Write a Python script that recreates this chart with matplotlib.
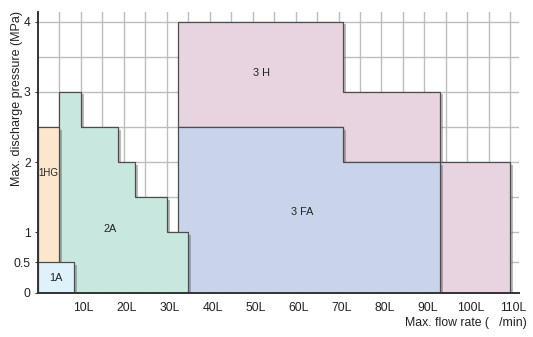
import numpy as np
import matplotlib
matplotlib.use("Agg")
import matplotlib.pyplot as plt
from matplotlib.patches import Polygon
from matplotlib import patheffects as pe
from matplotlib.transforms import ScaledTranslation

plt.rcParams['font.family'] = ['Liberation Sans', 'DejaVu Sans']

# ---- data (flow in L/min, pressure in MPa) ----
models = ["1A", "1HG", "2A", "3FA", "3H", "3H_ext"]
flow_1A = [0, 8.4];            press_1A = [0.5]
flow_1HG = [0, 5];             press_1HG = [2.5]
flow_2A = [5, 10, 18.6, 22.6, 30, 35]; press_2A = [3, 2.5, 2, 1.5, 1]
flow_3FA = [32.7, 71, 93.6];   press_3FA = [2.5, 2]
flow_3H = [32.7, 71, 93.6];    press_3H_top = [4, 3]; press_3H_bottom = [2.5, 2]
flow_3H_ext = [93.6, 110];     press_3H_ext = [2]

labels = ["1A", "1HG", "2A", "3 FA", "3 H"]
label_x = [4.2, 2.5, 16.8, 61.5, 52.1]
label_y = [0.24, 1.85, 1.05, 1.29, 3.27]
label_size = [7.8, 7.0, 7.8, 7.8, 7.8]

xtick_vals = [10, 20, 30, 40, 50, 60, 70, 80, 90, 100, 110]
xtick_labels = [f"{v}L" for v in xtick_vals]
ytick_vals = [0, 0.5, 1, 2, 3, 4]
ytick_labels = ["0", "0.5", "1", "2", "3", "4"]

colors = {"1A": "#dff1fb", "1HG": "#fde7cc", "2A": "#c8e8df",
          "3FA": "#c9d3ea", "3H": "#e8d4e0"}


def step_upper(edges, press):
    pts = []
    for i, p in enumerate(press):
        pts.append((edges[i], p))
        pts.append((edges[i + 1], p))
    return pts


def step_poly(edges, press, base=None):
    up = step_upper(edges, press)
    if base is None:
        return [(edges[0], 0)] + up + [(edges[-1], 0)]
    low = step_upper(edges, base)
    return up + low[::-1]


# piecewise axis scale (bottom part slightly compressed as in original)
def fwd(y):
    y = np.asarray(y, dtype=float)
    return np.where(y <= 1, y * 6 / 7, y - 1 / 7)


def inv(u):
    u = np.asarray(u, dtype=float)
    return np.where(u <= 6 / 7, u * 7 / 6, u + 1 / 7)


fig = plt.figure(figsize=(5.33, 3.37), dpi=100)
ax = fig.add_axes([37.7 / 533, 1 - 292.5 / 337, (519 - 37.7) / 533, (292.5 - 12) / 337])
ax.set_yscale('function', functions=(fwd, inv))
ax.set_xlim(0, 112)
ax.set_ylim(0, 4.139)

# grid
for gx in np.arange(5, 112, 5):
    ax.axvline(gx, color="#bdbdbd", lw=1.0, zorder=0)
for gy in np.arange(0.5, 4.01, 0.5):
    ax.axhline(gy, color="#bdbdbd", lw=1.0, zorder=0)

shadow = [pe.SimplePatchShadow(offset=(2.2, -1.8), shadow_rgbFace="#555555", alpha=0.4),
          pe.Normal()]


def add(pts, color, z):
    poly = Polygon(pts, closed=True, facecolor=color, edgecolor="#4d4d4d",
                   lw=0.9, zorder=z, path_effects=shadow)
    ax.add_patch(poly)


add(step_poly(flow_3H, press_3H_top, press_3H_bottom), colors["3H"], 2)
add(step_poly(flow_3H_ext, press_3H_ext), colors["3H"], 2)
add(step_poly(flow_3FA, press_3FA), colors["3FA"], 2)
add(step_poly(flow_2A, press_2A), colors["2A"], 3)
add(step_poly(flow_1HG, press_1HG), colors["1HG"], 3)
add(step_poly(flow_1A, press_1A), colors["1A"], 4)

for t, x, y, fs in zip(labels, label_x, label_y, label_size):
    ax.text(x, y, t, ha="center", va="center", fontsize=fs, color="#222222", zorder=6)

for s in ["top", "right"]:
    ax.spines[s].set_visible(False)
for s in ["left", "bottom"]:
    ax.spines[s].set_color("#333333")
    ax.spines[s].set_linewidth(1.4)
    ax.spines[s].set_zorder(7)

ax.set_xticks(xtick_vals)
ax.set_xticklabels(xtick_labels)
ax.set_xticks(np.arange(5, 112, 10), minor=True)
ax.set_yticks(ytick_vals)
ax.set_yticklabels(ytick_labels)
ax.yaxis.set_minor_locator(matplotlib.ticker.NullLocator())
ax.tick_params(axis="x", which="both", direction="in", length=3, color="#333333",
               labelsize=8.7, pad=7, labelcolor="#222222")
ax.tick_params(axis="y", direction="out", length=2, color="#333333",
               labelsize=8.7, pad=3, labelcolor="#222222")
off = ScaledTranslation(3 / 100, 0, fig.dpi_scale_trans)
for lab in ax.get_xticklabels():
    lab.set_transform(lab.get_transform() + off)

fig.text(527 / 533, 1 - 323 / 337, "Max. flow rate (   /min)", ha="right", va="center",
         fontsize=8.8, color="#222222")
fig.text(17 / 533, 1 - 99 / 337, "Max. discharge pressure (MPa)", rotation=90,
         ha="center", va="center", fontsize=9, color="#222222")

fig.savefig("out.png", dpi=100)
